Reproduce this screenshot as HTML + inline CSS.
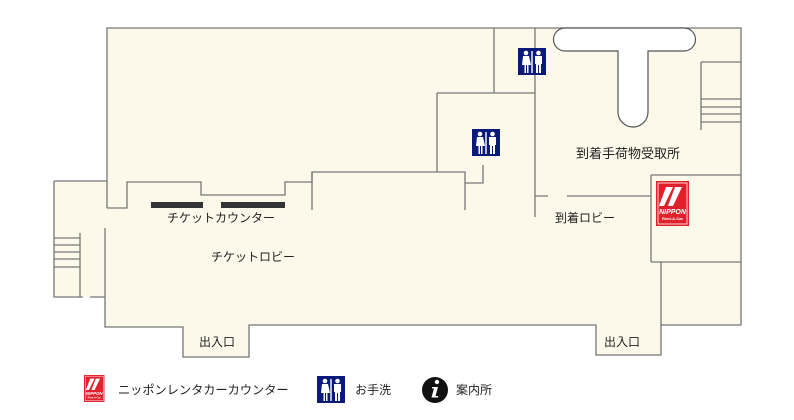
<!DOCTYPE html>
<html><head><meta charset="utf-8"><style>
html,body{margin:0;padding:0;background:#fff;}
svg{display:block}
text{font-family:"Liberation Sans","Noto Sans CJK JP",sans-serif;fill:#222;}
</style></head><body>
<svg width="794" height="420" viewBox="0 0 794 420" xmlns="http://www.w3.org/2000/svg">
<defs>
<g id="wc">
<rect x="0" y="0" width="28" height="27" fill="#0a1a7a"/>
<circle cx="8" cy="5" r="2.3" fill="#fff"/>
<path d="M5 8h6l2 9h-2.5v8h-1.5v-8h-1v8h-1.5v-8H4z" fill="#fff"/>
<rect x="13.3" y="3" width="1.4" height="22" fill="#fff"/>
<circle cx="20.5" cy="5" r="2.3" fill="#fff"/>
<path d="M17 8h7v8h-1v9h-2v-8h-1v8h-2v-9h-1z" fill="#fff"/>
</g>
<g id="nip">
<rect x="0" y="0" width="33" height="45" fill="#e0202a"/>
<rect x="2" y="2" width="29" height="41" fill="none" stroke="#fff" stroke-width="0.8"/>
<path d="M10 6h7L8 25H3z M19 6h7L17 25h-5z" fill="#fff"/>
<text x="16.5" y="33" font-size="7" font-weight="bold" font-style="italic" text-anchor="middle" style="fill:#fff">NIPPON</text>
<text x="16.5" y="39" font-size="4" font-weight="bold" text-anchor="middle" style="fill:#fff">Rent-A-Car</text>
</g>
</defs>
<g fill="#fdf9ea" stroke="none">
<path d="M54 181H107V297H54Z"/>
<path d="M107 28H741V325H661V355H596V325H249V357H183V327H105V208H107Z"/>
</g>
<g fill="none" stroke="#777" stroke-width="1.3">
<path d="M107 208V28H741V325H661V355H596V325H249V357H183V327H105V228"/>
<path d="M54 181H107 M54 181V297H83 M90 297H105"/>
<path d="M107 208H127V182H201V195H285V182H312V172H465V210"/>
<path d="M312 172V210"/>
<path d="M80 233V297 M54 238H80 M54 245H80 M54 252H80 M54 259H80 M54 267H80"/>
<path d="M494 28V93 M535 28V217 M437 93H535 M437 93V172"/>
<path d="M483 165V183H465"/>
<path d="M535 196H548 M567 196H651"/>
<path d="M651 175V262 M651 175H741 M651 262H741 M661 262V325"/>
<path d="M701 62V130 M701 62H741 M701 99H741 M701 107H741 M701 114H741 M701 122H741"/>
</g>
<path d="M565 28H684A11.5 11.5 0 0 1 684 51H648V112A15 15 0 0 1 618 112V51H565A11.5 11.5 0 0 1 565 28Z" fill="#fff" stroke="#555" stroke-width="1.2"/>
<rect x="151" y="202" width="52" height="6" fill="#333"/>
<rect x="221" y="202" width="64" height="6" fill="#333"/>
<use href="#wc" x="518" y="48"/>
<use href="#wc" x="472" y="129"/>
<use href="#nip" x="656" y="181"/>
<text x="628" y="158" font-size="13" text-anchor="middle">到着手荷物受取所</text>
<text x="585" y="222" font-size="12" text-anchor="middle">到着ロビー</text>
<text x="221" y="222" font-size="12" text-anchor="middle">チケットカウンター</text>
<text x="253" y="261" font-size="12" text-anchor="middle">チケットロビー</text>
<text x="217" y="346" font-size="12" text-anchor="middle">出入口</text>
<text x="622" y="346" font-size="12" text-anchor="middle">出入口</text>
<g transform="translate(84,375) scale(0.62,0.6)"><use href="#nip"/></g>
<text x="118" y="394" font-size="12.2">ニッポンレンタカーカウンター</text>
<use href="#wc" x="317" y="376"/>
<text x="355" y="394" font-size="12">お手洗</text>
<circle cx="435" cy="390" r="13" fill="#111"/>
<circle cx="437" cy="382" r="2.2" fill="#fff"/>
<path d="M432 387h6l-2.5 9h2.5v1.5h-6.5l2.5-9h-2z" fill="#fff"/>
<text x="456" y="394" font-size="12">案内所</text>
</svg>
</body></html>
